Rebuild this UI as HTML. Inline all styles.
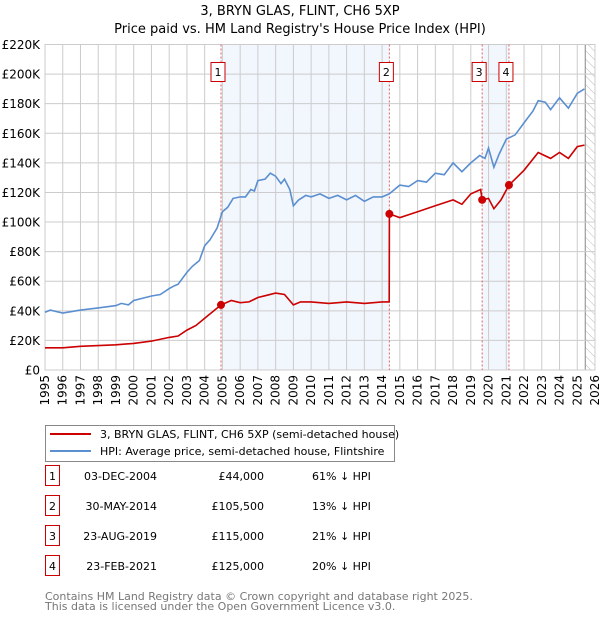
<!DOCTYPE html>
<html><head><meta charset="utf-8"><style>
body{margin:0;background:#fff;font-family:"DejaVu Sans","Liberation Sans",sans-serif;}
svg text{font-family:"DejaVu Sans","Liberation Sans",sans-serif;}
</style></head><body>
<svg id="c" width="600" height="620" xmlns="http://www.w3.org/2000/svg">
<defs><pattern id="hatch" width="6" height="6" patternUnits="userSpaceOnUse" patternTransform="rotate(-45)"><line x1="0" y1="0" x2="0" y2="6" stroke="#bbb" stroke-width="1"/></pattern></defs>
<text x="300" y="15" text-anchor="middle" font-size="13">3, BRYN GLAS, FLINT, CH6 5XP</text>
<text x="300" y="33" text-anchor="middle" font-size="13">Price paid vs. HM Land Registry's House Price Index (HPI)</text>
<g id="plot"></g>
<g>
<rect x="45.5" y="425.5" width="349" height="36" fill="#fff" stroke="#888"/>
<line x1="50" y1="434" x2="91" y2="434" stroke="#cc0000" stroke-width="2"/>
<text x="100" y="438" font-size="11">3, BRYN GLAS, FLINT, CH6 5XP (semi-detached house)</text>
<line x1="50" y1="451" x2="91" y2="451" stroke="#5b8fd0" stroke-width="2"/>
<text x="100" y="455" font-size="11">HPI: Average price, semi-detached house, Flintshire</text>
</g>
<g id="table" font-size="11"></g>
<text x="45" y="600" font-size="11" fill="#777">Contains HM Land Registry data © Crown copyright and database right 2025.</text>
<text x="45" y="610" font-size="11" fill="#777">This data is licensed under the Open Government Licence v3.0.</text>
</svg>
<script>
const hpiYears=[1995,1995.3,1996,1996.5,1997,1998,1999,1999.3,1999.7,2000,2001,2001.5,2002,2002.3,2002.5,2003,2003.3,2003.7,2004,2004.3,2004.7,2005,2005.3,2005.6,2006,2006.3,2006.6,2006.8,2007,2007.4,2007.7,2008,2008.3,2008.5,2008.8,2009,2009.3,2009.7,2010,2010.5,2011,2011.5,2012,2012.5,2013,2013.5,2014,2014.4,2015,2015.5,2016,2016.5,2017,2017.5,2018,2018.5,2019,2019.5,2019.8,2020,2020.3,2020.6,2021,2021.5,2022,2022.5,2022.8,2023.2,2023.5,2024,2024.5,2025,2025.4];
const hpiValues=[39,40.5,38.5,39.5,40.5,42,43.5,45,44,47,50,51,55,57,58,66,70,74,84,88,96,107,110,116,117,117,122,121,128,129,133,131,126,129,122,111,115,118,117,119,116,118,115,118,114,117,117,119,125,124,128,127,133,132,140,134,140,145,143,150,137,146,156,159,167,175,182,181,176,184,177,187,190];
const priceYears=[1995,1996,1997,1998,1999,2000,2001,2002,2002.5,2003,2003.5,2004,2004.92,2005.5,2006,2006.5,2007,2007.5,2008,2008.5,2009,2009.4,2010,2011,2012,2013,2014,2014.4,2014.41,2015,2016,2017,2018,2018.5,2019,2019.55,2019.64,2020,2020.3,2020.7,2021.15,2022,2022.8,2023.5,2024,2024.5,2025,2025.4];
const priceValues=[15,15,16,16.5,17,18,19.5,22,23,27,30,35,44,47,45.5,46,49,50.5,52,51,44,46,46,45,46,45,46,46,105.5,103,107,111,115,112,119,122,115,116,109,115,125,135,147,143,147,143,151,152];
const saleLabels=["1","2","3","4"];
const saleYears=[2004.92,2014.41,2019.64,2021.15];
const saleValues=[44,105.5,115,125];
const saleDates=["03-DEC-2004","30-MAY-2014","23-AUG-2019","23-FEB-2021"];
const salePrices=["£44,000","£105,500","£115,000","£125,000"];
const saleDiffs=["61% ↓ HPI","13% ↓ HPI","21% ↓ HPI","20% ↓ HPI"];
const yTicks=[0,20,40,60,80,100,120,140,160,180,200,220];
const yTickLabels=["£0","£20K","£40K","£60K","£80K","£100K","£120K","£140K","£160K","£180K","£200K","£220K"];
const xTicks=[1995,1996,1997,1998,1999,2000,2001,2002,2003,2004,2005,2006,2007,2008,2009,2010,2011,2012,2013,2014,2015,2016,2017,2018,2019,2020,2021,2022,2023,2024,2025,2026];
const shadeRanges=[[2004.92,2014.41],[2019.64,2021.15]];
const dataEnd=2025.45;

const L=45,R=595,T=44.5,B=370,X0=1995,X1=2026,YMAX=220;
const xs=v=>L+(v-X0)/(X1-X0)*(R-L);
const ys=v=>B-v/YMAX*(B-T);
const NS="http://www.w3.org/2000/svg";
const plot=document.getElementById('plot');
function mk(tag,attrs,parent,text){const e=document.createElementNS(NS,tag);for(const k in attrs)e.setAttribute(k,attrs[k]);if(text!==undefined)e.textContent=text;(parent||plot).appendChild(e);return e;}

shadeRanges.forEach((r,i)=>{const e=mk('rect',{x:xs(r[0]),y:T,width:xs(r[1])-xs(r[0]),height:B-T,fill:'#eef3fc',opacity:0.75});

});
const h=mk('rect',{x:xs(dataEnd),y:T,width:R-xs(dataEnd),height:B-T,fill:'url(#hatch)'});


mk('line',{x1:xs(dataEnd),y1:T,x2:xs(dataEnd),y2:B,stroke:'#888','stroke-width':1});
xTicks.forEach(t=>{const e=mk('line',{x1:xs(t),y1:T,x2:xs(t),y2:B,stroke:'#ccc','stroke-width':1});


const tx=mk('text',{x:0,y:0,transform:`translate(${xs(t)+4},${B+5}) rotate(-90)`,'text-anchor':'end','font-size':12},plot,String(t));

});
yTicks.forEach((t,i)=>{const e=mk('line',{x1:L,y1:ys(t),x2:R,y2:ys(t),stroke:'#ccc','stroke-width':1});


const tx=mk('text',{x:40,y:ys(t)+4.5,'text-anchor':'end','font-size':12},plot,yTickLabels[i]);

});
mk('rect',{x:L,y:T,width:R-L,height:B-T,fill:'none',stroke:'#ccc'});
saleYears.forEach((y,i)=>{const e=mk('line',{x1:xs(y),y1:T,x2:xs(y),y2:B,stroke:'#e06060','stroke-width':1,'stroke-dasharray':'2,2'});

});
const hp=mk('path',{d:hpiYears.map((y,i)=>(i?'L':'M')+xs(y).toFixed(1)+','+ys(hpiValues[i]).toFixed(1)).join(''),fill:'none',stroke:'#5b8fd0','stroke-width':1.6});


const pp=mk('path',{d:priceYears.map((y,i)=>(i?'L':'M')+xs(y).toFixed(1)+','+ys(priceValues[i]).toFixed(1)).join(''),fill:'none',stroke:'#cc0000','stroke-width':1.6});


saleYears.forEach((y,i)=>{const c=mk('circle',{cx:xs(y),cy:ys(saleValues[i]),r:4,fill:'#cc0000'});


const g=mk('g',{});


mk('rect',{x:xs(y)-10,y:62.5,width:14,height:19,fill:'#fff',stroke:'#cc0000'},g);
mk('text',{x:xs(y)-3,y:76,'text-anchor':'middle','font-size':11},g,saleLabels[i]);});

const tb=document.getElementById('table');
saleLabels.forEach((s,i)=>{const yy=483+i*30;
const g=mk('g',{},tb);


mk('rect',{x:45.5,y:yy-17.5,width:14,height:20,fill:'#fff',stroke:'#cc0000'},g);
mk('text',{x:52.5,y:yy-3,'text-anchor':'middle'},g,s);
mk('text',{x:157,y:yy-3,'text-anchor':'end'},g,saleDates[i]);
mk('text',{x:264,y:yy-3,'text-anchor':'end'},g,salePrices[i]);
mk('text',{x:312,y:yy-3},g,saleDiffs[i]);});
</script>
</body></html>
